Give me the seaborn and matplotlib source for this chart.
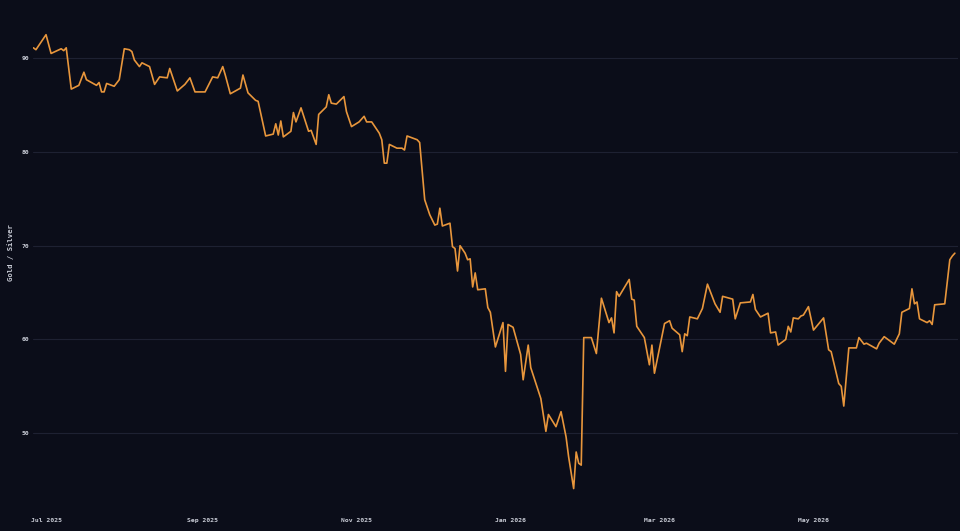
import matplotlib
matplotlib.use("Agg")
import matplotlib.dates as mdates
import matplotlib.pyplot as plt
import pandas as pd
import seaborn as sns

# gold / silver ratio
dates = [
    "2025-06-26", "2025-06-27", "2025-07-01", "2025-07-03", "2025-07-07", "2025-07-08",
    "2025-07-09", "2025-07-11", "2025-07-14", "2025-07-16", "2025-07-17", "2025-07-21",
    "2025-07-22", "2025-07-23", "2025-07-24", "2025-07-25", "2025-07-28", "2025-07-30",
    "2025-08-01", "2025-08-03", "2025-08-04", "2025-08-05", "2025-08-07", "2025-08-08",
    "2025-08-11", "2025-08-13", "2025-08-15", "2025-08-18", "2025-08-19", "2025-08-22",
    "2025-08-25", "2025-08-27", "2025-08-29", "2025-09-02", "2025-09-05", "2025-09-07",
    "2025-09-09", "2025-09-10", "2025-09-12", "2025-09-16", "2025-09-17", "2025-09-19",
    "2025-09-22", "2025-09-23", "2025-09-26", "2025-09-29", "2025-09-30", "2025-10-01",
    "2025-10-02", "2025-10-03", "2025-10-06", "2025-10-07", "2025-10-08", "2025-10-10",
    "2025-10-13", "2025-10-14", "2025-10-16", "2025-10-17", "2025-10-20", "2025-10-21",
    "2025-10-22", "2025-10-24", "2025-10-27", "2025-10-28", "2025-10-30", "2025-11-02",
    "2025-11-04", "2025-11-05", "2025-11-07", "2025-11-10", "2025-11-11", "2025-11-12",
    "2025-11-13", "2025-11-14", "2025-11-17", "2025-11-19", "2025-11-20", "2025-11-21",
    "2025-11-25", "2025-11-26", "2025-11-27", "2025-11-28", "2025-11-30", "2025-12-02",
    "2025-12-03", "2025-12-04", "2025-12-05", "2025-12-08", "2025-12-09", "2025-12-10",
    "2025-12-11", "2025-12-12", "2025-12-14", "2025-12-15", "2025-12-16", "2025-12-17",
    "2025-12-18", "2025-12-19", "2025-12-22", "2025-12-23", "2025-12-24", "2025-12-26",
    "2025-12-29", "2025-12-30", "2025-12-31", "2026-01-02", "2026-01-05", "2026-01-06",
    "2026-01-08", "2026-01-09", "2026-01-13", "2026-01-15", "2026-01-16", "2026-01-19",
    "2026-01-21", "2026-01-23", "2026-01-24", "2026-01-26", "2026-01-27", "2026-01-28",
    "2026-01-29", "2026-01-30", "2026-02-02", "2026-02-04", "2026-02-06", "2026-02-09",
    "2026-02-10", "2026-02-11", "2026-02-12", "2026-02-13", "2026-02-17", "2026-02-18",
    "2026-02-19", "2026-02-20", "2026-02-23", "2026-02-25", "2026-02-26", "2026-02-27",
    "2026-03-03", "2026-03-05", "2026-03-06", "2026-03-09", "2026-03-10", "2026-03-11",
    "2026-03-12", "2026-03-13", "2026-03-16", "2026-03-18", "2026-03-20", "2026-03-23",
    "2026-03-25", "2026-03-26", "2026-03-30", "2026-03-31", "2026-04-02", "2026-04-06",
    "2026-04-07", "2026-04-08", "2026-04-10", "2026-04-13", "2026-04-14", "2026-04-16",
    "2026-04-17", "2026-04-20", "2026-04-21", "2026-04-22", "2026-04-23", "2026-04-25",
    "2026-04-26", "2026-04-27", "2026-04-29", "2026-05-01", "2026-05-05", "2026-05-07",
    "2026-05-08", "2026-05-11", "2026-05-12", "2026-05-13", "2026-05-15", "2026-05-18",
    "2026-05-19", "2026-05-21", "2026-05-22", "2026-05-26", "2026-05-27", "2026-05-29",
    "2026-06-02", "2026-06-04", "2026-06-05", "2026-06-08", "2026-06-09", "2026-06-10",
    "2026-06-11", "2026-06-12", "2026-06-15", "2026-06-16", "2026-06-17", "2026-06-18",
    "2026-06-22", "2026-06-24", "2026-06-25", "2026-06-26",
]
ratio = [
    91.1, 90.9, 92.5, 90.5, 91.0, 90.8,
    91.1, 86.7, 87.1, 88.5, 87.7, 87.1,
    87.4, 86.4, 86.4, 87.3, 87.0, 87.7,
    91.0, 90.9, 90.7, 89.8, 89.1, 89.5,
    89.1, 87.2, 88.0, 87.9, 88.9, 86.5,
    87.2, 87.9, 86.4, 86.4, 88.0, 87.9,
    89.1, 88.2, 86.2, 86.8, 88.2, 86.3,
    85.5, 85.4, 81.7, 81.9, 83.0, 81.8,
    83.3, 81.6, 82.2, 84.2, 83.2, 84.7,
    82.2, 82.3, 80.8, 84.0, 84.8, 86.1,
    85.2, 85.1, 85.9, 84.3, 82.7, 83.2,
    83.8, 83.2, 83.2, 82.0, 81.3, 78.8,
    78.8, 80.8, 80.4, 80.4, 80.2, 81.7,
    81.3, 81.0, 78.0, 74.9, 73.3, 72.2,
    72.3, 74.0, 72.1, 72.4, 69.9, 69.7,
    67.3, 70.0, 69.2, 68.5, 68.6, 65.6,
    67.1, 65.3, 65.4, 63.4, 62.9, 59.2,
    61.8, 56.6, 61.6, 61.3, 58.4, 55.7,
    59.4, 57.0, 53.7, 50.2, 52.0, 50.7,
    52.3, 49.6, 47.5, 44.1, 48.0, 46.8,
    46.6, 60.2, 60.2, 58.5, 64.4, 61.8,
    62.3, 60.7, 65.1, 64.6, 66.4, 64.3,
    64.2, 61.4, 60.2, 57.3, 59.4, 56.4,
    61.7, 62.0, 61.2, 60.5, 58.7, 60.6,
    60.4, 62.4, 62.2, 63.3, 65.9, 63.8,
    62.9, 64.6, 64.3, 62.2, 63.9, 64.0,
    64.8, 63.2, 62.4, 62.8, 60.7, 60.8,
    59.4, 60.0, 61.4, 60.8, 62.3, 62.2,
    62.5, 62.6, 63.5, 61.0, 62.3, 58.9,
    58.7, 55.3, 55.0, 52.9, 59.1, 59.1,
    60.2, 59.5, 59.6, 59.0, 59.6, 60.3,
    59.5, 60.6, 62.9, 63.3, 65.4, 63.8,
    64.0, 62.2, 61.8, 62.0, 61.6, 63.7,
    63.8, 68.5, 68.9, 69.2,
]
y_ticks = [50, 60, 70, 80, 90]

BG = "#0b0d19"
LINE = "#e8963c"
GRID = "#1e2132"
TEXT = "#c9ccd6"

df = pd.DataFrame({"date": pd.to_datetime(dates), "ratio": ratio})

sns.set_theme(style="dark", rc={"axes.facecolor": BG, "figure.facecolor": BG})
plt.rcParams["font.family"] = ["DejaVu Sans Mono", "DejaVu Sans"]

fig = plt.figure(figsize=(9.6, 5.31), dpi=100)
ax = fig.add_axes([0.0348, 0.049, 0.963, 0.951])
sns.lineplot(data=df, x="date", y="ratio", color=LINE, linewidth=1.2, ax=ax)

ax.set_ylim(42.35, 96.2)
ax.set_xlim(df["date"].iloc[0], df["date"].iloc[-1] + pd.Timedelta(days=1.2))
ax.set_yticks(y_ticks)
ax.xaxis.set_major_locator(mdates.MonthLocator(bymonth=[1, 3, 5, 7, 9, 11]))
ax.xaxis.set_major_formatter(mdates.DateFormatter("%b %Y"))

ax.grid(axis="y", color=GRID, linewidth=0.8)
ax.grid(axis="x", visible=False)
for spine in ax.spines.values():
    spine.set_visible(False)

ax.tick_params(axis="both", length=0, labelsize=4.6, colors=TEXT)
ax.tick_params(axis="x", pad=9.5)
ax.tick_params(axis="y", pad=3)
for lab in ax.get_xticklabels() + ax.get_yticklabels():
    lab.set_fontweight("bold")

ax.set_xlabel("")
ax.set_ylabel("Gold / Silver", fontsize=5.2, color=TEXT, fontweight="bold", labelpad=5.5)

fig.savefig("out.png", dpi=100, facecolor=BG)
